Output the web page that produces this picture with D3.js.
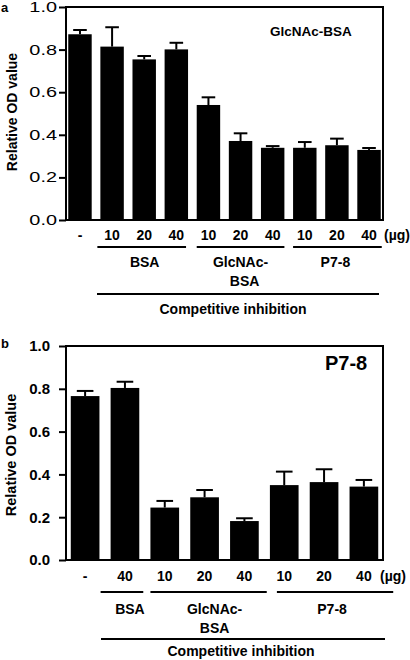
<!DOCTYPE html>
<html>
<head>
<meta charset="utf-8">
<script src="https://cdn.jsdelivr.net/npm/d3@7"></script>
<style>
  html, body { margin: 0; padding: 0; background: #fff; }
  svg { display: block; font-family: "Liberation Sans", Arial, sans-serif; }
</style>
</head>
<body>
<svg id="chart" width="410" height="660"></svg>
<script>
// ---------- data ----------
const yTicks = [0, 0.2, 0.4, 0.6, 0.8, 1.0];

const catsA = ["-", "10", "20", "40", "10", "20", "40", "10", "20", "40"];
const valuesA = [0.872, 0.814, 0.754, 0.801, 0.540, 0.371, 0.339, 0.339, 0.351, 0.329];
const errA = [0.020, 0.091, 0.016, 0.031, 0.036, 0.036, 0.008, 0.027, 0.031, 0.009];
const groupLabelsA = [["BSA"], ["GlcNAc-", "BSA"], ["P7-8"]];
const groupRangesA = [[1, 3], [4, 6], [7, 9]];

const catsB = ["-", "40", "10", "20", "40", "10", "20", "40"];
const valuesB = [0.766, 0.804, 0.245, 0.293, 0.182, 0.350, 0.364, 0.343];
const errB = [0.024, 0.029, 0.031, 0.034, 0.013, 0.063, 0.060, 0.031];
const groupLabelsB = [["BSA"], ["GlcNAc-", "BSA"], ["P7-8"]];
const groupRangesB = [[1, 1], [2, 4], [5, 7]];

const unitLabel = "(\u00b5g)";
const yTitle = "Relative OD value";
const outerLabel = "Competitive inhibition";

// ---------- layout ----------
const svg = d3.select("#chart");

function panel(cfg) {
  const g = svg.append("g");
  const n = cfg.cats.length;
  const x = d3.scaleBand().domain(d3.range(n)).range([cfg.left, cfg.right])
    .paddingInner(cfg.padIn).paddingOuter(cfg.padOut);
  const y = d3.scaleLinear().domain([0, 1]).range([cfg.bottom, cfg.top]);
  const bw = x.bandwidth();

  // bars
  g.selectAll("rect.bar").data(cfg.values).join("rect")
    .attr("x", (d, i) => x(i)).attr("width", bw)
    .attr("y", d => y(d)).attr("height", d => y(0) - y(d))
    .attr("fill", "#000");

  // error bars (upper)
  const capW = bw * 0.58;
  cfg.values.forEach((v, i) => {
    const cx = x(i) + bw / 2;
    const top = y(v + cfg.errs[i]);
    g.append("line").attr("x1", cx).attr("x2", cx).attr("y1", y(v)).attr("y2", top)
      .attr("stroke", "#000").attr("stroke-width", 2);
    g.append("line").attr("x1", cx - capW / 2).attr("x2", cx + capW / 2).attr("y1", top).attr("y2", top)
      .attr("stroke", "#000").attr("stroke-width", 2);
  });

  // frame
  g.append("rect").attr("x", cfg.left).attr("y", y(1)).attr("width", cfg.right - cfg.left)
    .attr("height", y(0) - y(1)).attr("fill", "none").attr("stroke", "#000").attr("stroke-width", 2);

  // y axis
  const yAxis = d3.axisLeft(y).tickValues(yTicks).tickFormat(d3.format(".1f")).tickSize(7).tickPadding(0);
  const ya = g.append("g").attr("transform", `translate(${cfg.left},0)`).call(yAxis);
  ya.select(".domain").remove();
  ya.selectAll(".tick line").attr("stroke-width", 2).attr("stroke", "#000");
  ya.selectAll(".tick text").remove();
  yTicks.forEach(t => {
    g.append("text")
      .attr("transform", `translate(${cfg.tickLabelX},${y(t) + cfg.tickFont * 0.36}) scale(${cfg.tickScale},1)`)
      .attr("text-anchor", "end").attr("font-size", cfg.tickFont).attr("font-weight", cfg.tickWeight)
      .attr("fill", "#000").text(d3.format(".1f")(t));
  });

  // y title
  g.append("text").attr("transform", `translate(${cfg.yTitleX},${cfg.yTitleY}) rotate(-90)`)
    .attr("text-anchor", "middle").attr("font-size", cfg.yTitleFont).attr("font-weight", "bold")
    .text(yTitle);

  // x category labels
  cfg.cats.forEach((c, i) => {
    g.append("text").attr("x", x(i) + bw / 2).attr("y", cfg.catY)
      .attr("text-anchor", "middle").attr("font-size", 14).attr("font-weight", "bold").text(c);
  });
  g.append("text").attr("x", cfg.unitX).attr("y", cfg.catY).attr("font-size", 14)
    .attr("font-weight", "bold").text(unitLabel);

  // groups
  cfg.groupRanges.forEach((r, k) => {
    const x0 = x(r[0]) + cfg.groupOff[k][0];
    const x1 = x(r[1]) + bw + cfg.groupOff[k][1];
    g.append("line").attr("x1", x0).attr("x2", x1).attr("y1", cfg.groupLineY).attr("y2", cfg.groupLineY)
      .attr("stroke", "#000").attr("stroke-width", 1.8);
    const cx = (x0 + x1) / 2 + cfg.groupOff[k][2];
    cfg.groupLabels[k].forEach((t, j) => {
      g.append("text").attr("x", cx + (j > 0 ? cfg.secondLineDx : 0)).attr("y", cfg.groupTextY + j * 19)
        .attr("text-anchor", "middle").attr("font-size", 14).attr("font-weight", "bold").text(t);
    });
  });

  // outer group
  g.append("line").attr("x1", cfg.outer[0]).attr("x2", cfg.outer[1])
    .attr("y1", cfg.outerLineY).attr("y2", cfg.outerLineY).attr("stroke", "#000").attr("stroke-width", 2);
  g.append("text").attr("x", cfg.outerTextX).attr("y", cfg.outerTextY).attr("text-anchor", "middle")
    .attr("font-size", 14).attr("font-weight", "bold").text(outerLabel);

  // panel letter & title
  g.append("text").attr("x", 1).attr("y", cfg.letterY).attr("font-size", 13).attr("font-weight", "bold").text(cfg.letter);
  g.append("text").attr("x", cfg.titleX).attr("y", cfg.titleY).attr("font-size", cfg.titleFont)
    .attr("font-weight", "bold").text(cfg.title);
}

panel({
  cats: catsA, values: valuesA, errs: errA, groupLabels: groupLabelsA, groupRanges: groupRangesA,
  left: 66, right: 383, top: 7, bottom: 220, padIn: 0.27, padOut: 0.07,
  tickLabelX: 57, tickFont: 14, tickWeight: "normal", tickScale: 1.42,
  yTitleX: 17, yTitleY: 112, yTitleFont: 14,
  catY: 240, unitX: 384,
  groupLineY: 247, groupTextY: 267, secondLineDx: 4,
  groupOff: [[-3, -2, 3], [0, 0, 0], [0, 1, -2]],
  outer: [97, 379], outerLineY: 294, outerTextY: 314, outerTextX: 233,
  letter: "a", letterY: 12, title: "GlcNAc-BSA", titleX: 270, titleY: 36, titleFont: 13.5
});

panel({
  cats: catsB, values: valuesB, errs: errB, groupLabels: groupLabelsB, groupRanges: groupRangesB,
  left: 66, right: 383, top: 346, bottom: 560, padIn: 0.28, padOut: 0.12,
  tickLabelX: 50, tickFont: 15, tickWeight: "bold", tickScale: 1,
  yTitleX: 16, yTitleY: 455, yTitleFont: 14.5,
  catY: 581, unitX: 380,
  groupLineY: 592, groupTextY: 614, secondLineDx: 0,
  groupOff: [[-10, 4, 8], [0, 8, 6], [7, 15, -3]],
  outer: [101, 385], outerLineY: 639, outerTextY: 656, outerTextX: 241,
  letter: "b", letterY: 348, title: "P7-8", titleX: 325, titleY: 370, titleFont: 20
});
</script>
</body>
</html>
